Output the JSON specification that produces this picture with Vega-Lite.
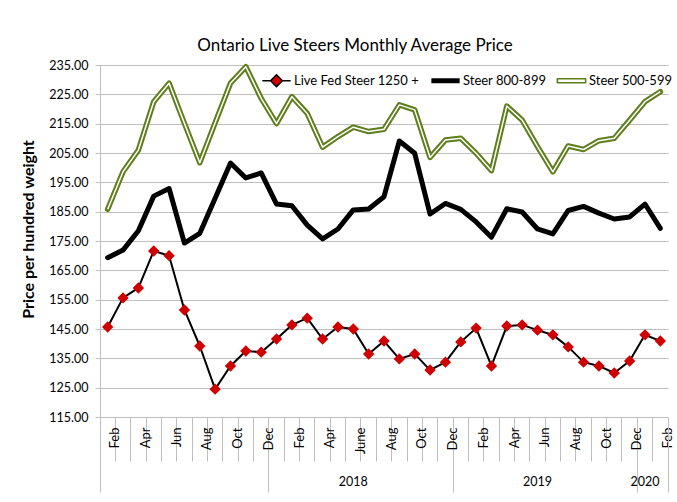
{
  "$schema": "https://vega.github.io/schema/vega-lite/v6.json",
  "width": 568,
  "height": 352,
  "autosize": {"type": "none"},
  "padding": {"left": 100, "top": 65, "right": 9, "bottom": 85},
  "background": "white",
  "config": {
    "view": {"stroke": null},
    "font": "Lato",
    "axis": {"labelFont": "Lato", "titleFont": "Lato", "labelColor": "#000000", "titleColor": "#000000"}
  },
  "title": {
    "text": "Ontario Live Steers Monthly Average Price",
    "font": "Lato",
    "fontSize": 17,
    "fontWeight": "normal",
    "color": "#000000",
    "anchor": "middle",
    "dx": -29,
    "baseline": "alphabetic",
    "offset": -9
  },
  "datasets": {
    "lf": [
      {"month": "2017-02", "price": 145.7}, {"month": "2017-03", "price": 155.6}, {"month": "2017-04", "price": 159.0},
      {"month": "2017-05", "price": 171.6}, {"month": "2017-06", "price": 170.0}, {"month": "2017-07", "price": 151.5},
      {"month": "2017-08", "price": 139.2}, {"month": "2017-09", "price": 124.5}, {"month": "2017-10", "price": 132.4},
      {"month": "2017-11", "price": 137.5}, {"month": "2017-12", "price": 137.1},
      {"month": "2018-01", "price": 141.6}, {"month": "2018-02", "price": 146.4}, {"month": "2018-03", "price": 148.7},
      {"month": "2018-04", "price": 141.6}, {"month": "2018-05", "price": 145.7}, {"month": "2018-06", "price": 145.0},
      {"month": "2018-07", "price": 136.5}, {"month": "2018-08", "price": 140.9}, {"month": "2018-09", "price": 134.8},
      {"month": "2018-10", "price": 136.5}, {"month": "2018-11", "price": 131.0}, {"month": "2018-12", "price": 133.7},
      {"month": "2019-01", "price": 140.6}, {"month": "2019-02", "price": 145.3}, {"month": "2019-03", "price": 132.4},
      {"month": "2019-04", "price": 146.0}, {"month": "2019-05", "price": 146.4}, {"month": "2019-06", "price": 144.6},
      {"month": "2019-07", "price": 143.0}, {"month": "2019-08", "price": 138.9}, {"month": "2019-09", "price": 133.7},
      {"month": "2019-10", "price": 132.4}, {"month": "2019-11", "price": 130.0}, {"month": "2019-12", "price": 134.1},
      {"month": "2020-01", "price": 143.0}, {"month": "2020-02", "price": 140.9}
    ],
    "s8": [
      {"month": "2017-02", "price": 169.3}, {"month": "2017-03", "price": 171.9}, {"month": "2017-04", "price": 178.5},
      {"month": "2017-05", "price": 190.3}, {"month": "2017-06", "price": 192.9}, {"month": "2017-07", "price": 174.3},
      {"month": "2017-08", "price": 177.6}, {"month": "2017-09", "price": 189.6}, {"month": "2017-10", "price": 201.6},
      {"month": "2017-11", "price": 196.5}, {"month": "2017-12", "price": 198.2},
      {"month": "2018-01", "price": 187.6}, {"month": "2018-02", "price": 187.0}, {"month": "2018-03", "price": 180.4},
      {"month": "2018-04", "price": 175.7}, {"month": "2018-05", "price": 179.1}, {"month": "2018-06", "price": 185.6},
      {"month": "2018-07", "price": 185.9}, {"month": "2018-08", "price": 190.1}, {"month": "2018-09", "price": 209.1},
      {"month": "2018-10", "price": 204.9}, {"month": "2018-11", "price": 184.2}, {"month": "2018-12", "price": 187.8},
      {"month": "2019-01", "price": 185.8}, {"month": "2019-02", "price": 181.5}, {"month": "2019-03", "price": 176.3},
      {"month": "2019-04", "price": 186.0}, {"month": "2019-05", "price": 184.9}, {"month": "2019-06", "price": 179.1},
      {"month": "2019-07", "price": 177.4}, {"month": "2019-08", "price": 185.4}, {"month": "2019-09", "price": 186.8},
      {"month": "2019-10", "price": 184.5}, {"month": "2019-11", "price": 182.5}, {"month": "2019-12", "price": 183.2},
      {"month": "2020-01", "price": 187.6}, {"month": "2020-02", "price": 179.3}
    ],
    "s5": [
      {"month": "2017-02", "price": 185.8}, {"month": "2017-03", "price": 198.6}, {"month": "2017-04", "price": 206.0},
      {"month": "2017-05", "price": 222.5}, {"month": "2017-06", "price": 228.8}, {"month": "2017-07", "price": 215.1},
      {"month": "2017-08", "price": 201.7}, {"month": "2017-09", "price": 215.3}, {"month": "2017-10", "price": 228.8},
      {"month": "2017-11", "price": 234.4}, {"month": "2017-12", "price": 223.6},
      {"month": "2018-01", "price": 215.0}, {"month": "2018-02", "price": 224.2}, {"month": "2018-03", "price": 218.5},
      {"month": "2018-04", "price": 207.0}, {"month": "2018-05", "price": 210.6}, {"month": "2018-06", "price": 213.8},
      {"month": "2018-07", "price": 212.3}, {"month": "2018-08", "price": 213.1}, {"month": "2018-09", "price": 221.4},
      {"month": "2018-10", "price": 219.7}, {"month": "2018-11", "price": 203.5}, {"month": "2018-12", "price": 209.4},
      {"month": "2019-01", "price": 210.0}, {"month": "2019-02", "price": 204.9}, {"month": "2019-03", "price": 199.0},
      {"month": "2019-04", "price": 221.0}, {"month": "2019-05", "price": 216.2}, {"month": "2019-06", "price": 207.2},
      {"month": "2019-07", "price": 198.6}, {"month": "2019-08", "price": 207.4}, {"month": "2019-09", "price": 206.2},
      {"month": "2019-10", "price": 209.2}, {"month": "2019-11", "price": 210.0}, {"month": "2019-12", "price": 216.2},
      {"month": "2020-01", "price": 222.5}, {"month": "2020-02", "price": 225.9}
    ]
  },
  "resolve": {"axis": {"x": "independent"}},
  "layer": [
    {
      "data": {"name": "s5"},
      "mark": {"type": "line", "strokeWidth": 5.5, "strokeJoin": "round", "strokeCap": "round"},
      "encoding": {
        "x": {
          "field": "month", "type": "ordinal",
          "scale": {"type": "band", "paddingInner": 0, "paddingOuter": 0},
          "axis": {
            "orient": "bottom",
            "title": null,
            "bandPosition": 0,
            "domainColor": "#BFBFBF",
            "tickColor": "#BFBFBF",
            "tickSize": {"condition": {"test": "datum.value == '2017-02' || datum.value == '2018-01' || datum.value == '2019-01' || datum.value == '2020-01'", "value": 75}, "value": 44},
            "labelPadding": {"condition": {"test": "datum.value == '2017-02' || datum.value == '2018-01' || datum.value == '2019-01' || datum.value == '2020-01'", "value": -65}, "value": -34},
            "labelAngle": -90,
            "labelAlign": "right",
            "labelBaseline": "middle",
            "labelOffset": 7.7,
            "labelFontSize": 13,
            "labelOverlap": false,
            "labelBound": false,
            "labelFlush": false,
            "labelExpr": "datum.value == '2018-06' ? 'June' : ['', '', 'Feb', '', 'Apr', '', 'Jun', '', 'Aug', '', 'Oct', '', 'Dec'][toNumber(substring(datum.value, 5, 7))]",
            "grid": false
          }
        },
        "y": {
          "field": "price", "type": "quantitative",
          "scale": {"domain": [115, 235], "nice": false, "zero": false},
          "axis": {
            "orient": "left",
            "title": "Price per hundred weight",
            "titleFontSize": 16,
            "titleFontWeight": "bold",
            "titleY": 164,
            "titlePadding": 12,
            "values": [115, 125, 135, 145, 155, 165, 175, 185, 195, 205, 215, 225, 235],
            "tickCount": 13,
            "format": ".2f",
            "labelFontSize": 12.5,
            "labelPadding": 7,
            "labelOverlap": false,
            "tickSize": 5,
            "tickColor": "#BFBFBF",
            "domainColor": "#BFBFBF",
            "grid": true,
            "gridColor": "#BFBFBF",
            "gridWidth": 1
          }
        },
        "color": {
          "datum": "Steer 500-599",
          "type": "nominal",
          "scale": {
            "domain": ["Live Fed Steer 1250 +", "Steer 800-899", "Steer 500-599"],
            "range": ["#000000", "#000000", "#5E7D1B"]
          },
          "legend": {
            "title": null,
            "orient": "none",
            "legendX": 170,
            "legendY": 9,
            "direction": "horizontal",
            "symbolSize": 800,
            "labelFont": "Lato",
            "labelFontSize": 13,
            "labelColor": "#000000",
            "labelOffset": 11,
            "columnPadding": 9,
            "encode": {
              "symbols": {
                "update": {
                  "shape": {"signal": "datum.value === 'Live Fed Steer 1250 +' ? 'M-1,0H-0.42M0.42,0H1M0,-0.42L0.42,0L0,0.42L-0.42,0Z' : datum.value === 'Steer 800-899' ? 'M-1,0H1' : 'M-1,-0.14H1V0.14H-1Z'"},
                  "fill": {"signal": "datum.value === 'Live Fed Steer 1250 +' ? '#D00000' : datum.value === 'Steer 800-899' ? 'transparent' : '#FFFFFF'"},
                  "stroke": {"signal": "datum.value === 'Steer 500-599' ? '#5E7D1B' : '#000000'"},
                  "strokeWidth": {"signal": "datum.value === 'Live Fed Steer 1250 +' ? 1.5 : datum.value === 'Steer 800-899' ? 5 : 1.6"},
                  "strokeJoin": {"value": "round"},
                  "opacity": {"value": 1}
                }
              }
            }
          }
        }
      }
    },
    {
      "data": {"name": "s5"},
      "mark": {"type": "line", "strokeWidth": 1.5, "color": "#FFFFFF", "strokeJoin": "round"},
      "encoding": {
        "x": {
          "field": "month", "type": "ordinal",
          "scale": {"type": "band", "paddingInner": 0, "paddingOuter": 0},
          "axis": {
            "orient": "bottom",
            "title": null,
            "bandPosition": 1,
            "domain": false,
            "tickSize": 75,
            "tickColor": "#BFBFBF",
            "tickOpacity": {"condition": {"test": "datum.value == '2020-02'", "value": 1}, "value": 0},
            "labelAngle": 0,
            "labelAlign": "center",
            "labelBaseline": "top",
            "labelPadding": -17,
            "labelFontSize": 12.5,
            "labelOverlap": false,
            "labelBound": false,
            "labelFlush": false,
            "labelExpr": "datum.value == '2018-06' ? '2018' : datum.value == '2019-06' ? '2019' : datum.value == '2020-01' ? '2020' : ''",
            "grid": false
          }
        },
        "y": {"field": "price", "type": "quantitative"}
      }
    },
    {
      "data": {"name": "s8"},
      "mark": {"type": "line", "strokeWidth": 5, "color": "#000000", "strokeJoin": "round", "strokeCap": "round"},
      "encoding": {
        "x": {"field": "month", "type": "ordinal", "scale": {"type": "band", "paddingInner": 0, "paddingOuter": 0}, "axis": null},
        "y": {"field": "price", "type": "quantitative"}
      }
    },
    {
      "data": {"name": "lf"},
      "mark": {"type": "line", "strokeWidth": 2, "color": "#000000", "strokeJoin": "round"},
      "encoding": {
        "x": {"field": "month", "type": "ordinal", "scale": {"type": "band", "paddingInner": 0, "paddingOuter": 0}, "axis": null},
        "y": {"field": "price", "type": "quantitative"}
      }
    },
    {
      "data": {"name": "lf"},
      "mark": {"type": "point", "shape": "diamond", "filled": true, "size": 130, "color": "#D00000", "opacity": 1},
      "encoding": {
        "x": {"field": "month", "type": "ordinal", "scale": {"type": "band", "paddingInner": 0, "paddingOuter": 0}, "axis": null},
        "y": {"field": "price", "type": "quantitative"}
      }
    }
  ]
}
